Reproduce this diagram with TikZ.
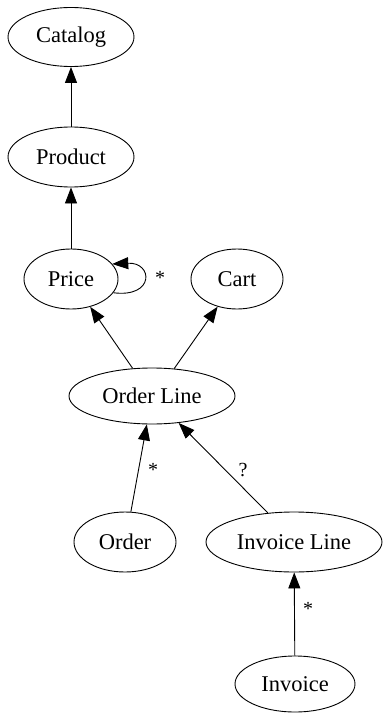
\documentclass[tikz,border=0pt]{standalone}
\usepackage{fontspec}
\setmainfont{Liberation Serif}
\usetikzlibrary{shapes.geometric,arrows.meta}
\tikzset{
  entity/.style={draw, ellipse, inner sep=0pt, line width=0.9pt, font=\fontsize{22.5}{26}\selectfont},
  edge/.style={line width=0.9pt, -{Triangle[length=16pt,width=12pt]}},
  mult/.style={font=\fontsize{20}{24}\selectfont}
}
\begin{document}
\begin{tikzpicture}[x=1pt,y=-1pt]
  \useasboundingbox (0,0) rectangle (383,714);
  %entita
  \node[entity, minimum width=126pt, minimum height=59pt] (catalog) at (71,37) {Catalog};
  \node[entity, minimum width=126pt, minimum height=60pt] (product) at (71,157) {Product};
  \node[entity, minimum width=94pt, minimum height=60pt] (price) at (71,279) {Price};
  \node[entity, minimum width=92pt, minimum height=60pt] (cart) at (237,279) {Cart};
  \node[entity, minimum width=166pt, minimum height=56pt] (orderline) at (152,396) {Order Line};
  \node[entity, minimum width=102pt, minimum height=60pt] (order) at (125,542) {Order};
  \node[entity, minimum width=176pt, minimum height=60pt] (invoiceline) at (294,542) {Invoice Line};
  \node[entity, minimum width=120pt, minimum height=56pt] (invoice) at (295,684) {Invoice};
  %relazioni
  \draw[edge] (price.-18) .. controls (155,298) and (153,262) .. (price.20);
  \node[mult] (priceloop) at (160,278) {*};
  \draw[edge] (product) -- (catalog);
  \draw[edge] (price) -- (product);
  \draw[edge] (orderline.125) -- (price);
  \draw[edge] (orderline.51) -- (cart);
  \draw[edge] (order.79) -- (orderline);
  \node[mult] (ordmult) at (153,470) {*};
  \draw[edge] (invoiceline.132) -- (orderline);
  \node[mult] (invlmult) at (243,470) {?};
  \draw[edge] (invoice) -- (invoiceline);
  \node[mult] (invmult) at (308,609) {*};
\end{tikzpicture}
\end{document}
